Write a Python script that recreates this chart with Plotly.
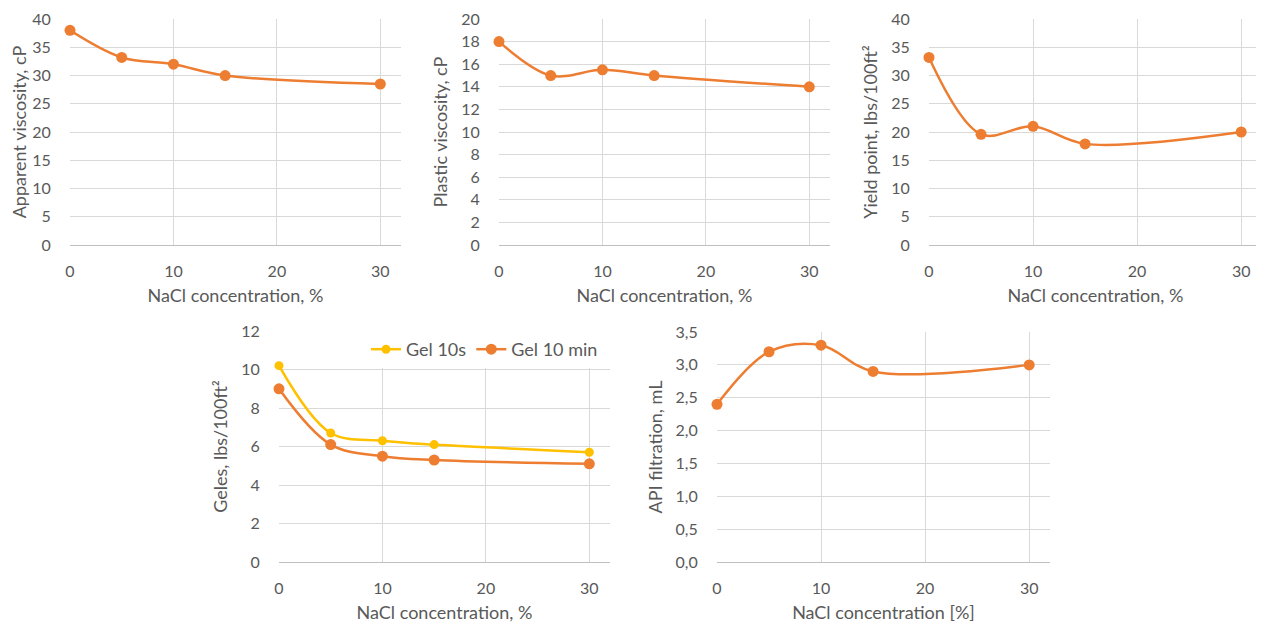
import plotly.graph_objects as go

nacl = [0, 5, 10, 15, 30]
apparent_visc = [38, 33.2, 32, 30, 28.5]
plastic_visc = [18, 15, 15.5, 15, 14]
yield_point = [33.2, 19.6, 21, 17.9, 20]
gel_10s = [10.2, 6.7, 6.3, 6.1, 5.7]
gel_10min = [9.0, 6.1, 5.5, 5.3, 5.1]
api_filtration = [2.4, 3.2, 3.3, 2.9, 3.0]

ORANGE = "#ED7D31"
YELLOW = "#FFC000"
GRAY = "#595959"
FONT = "Lato"

OFF = 8  # page body margin
W, H = 1264 - OFF, 625 - OFF

def dom_x(a, b):
    return [(a - OFF) / W, min(1, (b - OFF) / W)]

def dom_y(top, bottom):
    return [1 - (bottom - OFF) / H, 1 - (top - OFF) / H]

fig = go.Figure()

panels = [
    ("x", "y", (70, 401), (19, 245), [0, 40], 5, "Apparent viscosity, cP", "NaCl concentration, %"),
    ("x2", "y2", (499, 830), (19, 245), [0, 20], 2, "Plastic viscosity, cP", "NaCl concentration, %"),
    ("x3", "y3", (929, 1262), (19, 245), [0, 40], 5, "Yield point, lbs/100ft²", "NaCl concentration, %"),
    ("x4", "y4", (279, 610), (331, 562), [0, 12], 2, "Geles, lbs/100ft²", "NaCl concentration, %"),
    ("x5", "y5", (717, 1050), (332, 562), [0, 3.5], 0.5, "API filtration, mL", "NaCl concentration [%]"),
]

series = {
    "x": [(apparent_visc, ORANGE, "Apparent viscosity", False)],
    "x2": [(plastic_visc, ORANGE, "Plastic viscosity", False)],
    "x3": [(yield_point, ORANGE, "Yield point", False)],
    "x4": [(gel_10s, YELLOW, "Gel 10s", True), (gel_10min, ORANGE, "Gel 10 min", True)],
    "x5": [(api_filtration, ORANGE, "API filtration", False)],
}

for xa, ya, xd, yd, yr, dt, yt, xt in panels:
    for vals, col, name, show in series[xa]:
        fig.add_trace(go.Scatter(
            x=nacl, y=vals, xaxis=xa, yaxis=ya, name=name, showlegend=show,
            mode="lines+markers",
            line=dict(color=col, width=2.5, shape="spline", smoothing=1.0),
            marker=dict(color=col, size=11 if col == ORANGE else 9),
            cliponaxis=False,
        ))
    xkey = "xaxis" + xa[1:]
    ykey = "yaxis" + ya[1:]
    fig.layout[xkey] = dict(
        domain=dom_x(*xd), anchor=ya, range=[0, 32], tickvals=[0, 10, 20, 30],
        showgrid=True, gridcolor="#D9D9D9", gridwidth=1, zeroline=False,
        showline=True, linecolor="#BFBFBF", linewidth=1,
        tickfont=dict(family=FONT, size=16, color=GRAY),
        title=dict(text=xt, font=dict(family=FONT, size=18, color=GRAY), standoff=10),
        ticks="outside", ticklen=12, tickcolor="rgba(0,0,0,0)",
        ticklabeloverflow="allow",
        automargin=False, fixedrange=True,
    )
    fig.layout[ykey] = dict(
        domain=dom_y(*yd), anchor=xa, range=[yr[0], yr[1] * 1.0001], dtick=dt,
        tickformat=".1f" if dt < 1 else "d",
        showgrid=True, gridcolor="#D9D9D9", gridwidth=1, zeroline=False,
        showline=False,
        tickfont=dict(family=FONT, size=16, color=GRAY),
        title=dict(text=yt, font=dict(family=FONT, size=18, color=GRAY), standoff=8),
        ticks="outside", ticklen=15, tickcolor="rgba(0,0,0,0)",
        ticklabeloverflow="allow",
        automargin=False, fixedrange=True,
    )

fig.update_layout(
    width=W, height=H,
    margin=dict(l=0, r=0, t=0, b=0),
    paper_bgcolor="white", plot_bgcolor="white",
    separators=",.",
    font=dict(family=FONT, color=GRAY),
    legend=dict(
        orientation="h", x=(366 - OFF) / W, y=1 - (331 - OFF) / H,
        xanchor="left", yanchor="top",
        bgcolor="white", font=dict(family=FONT, size=18, color=GRAY),
    ),
)

fig.write_html("out.html")
